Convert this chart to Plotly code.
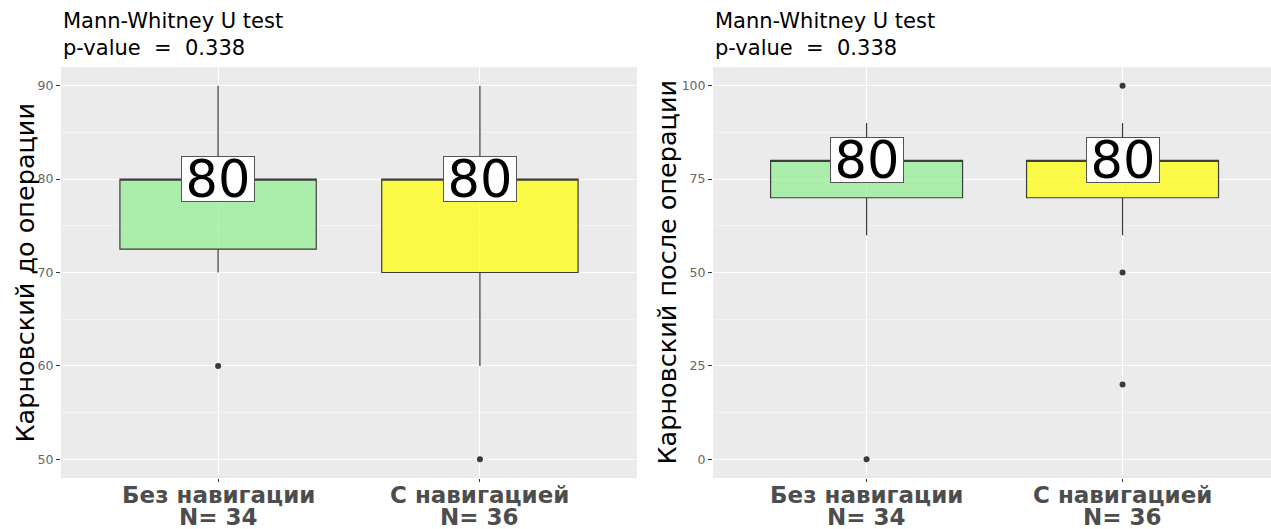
import plotly.graph_objects as go

# Groups and sample sizes
groups = ["Без навигации", "С навигацией"]
group_n = [34, 36]
fill_colors = ["rgba(144,238,144,0.7)", "rgba(255,255,0,0.7)"]

# Karnofsky score before surgery: box statistics per group
pre_q1 = [72.5, 70]
pre_median = [80, 80]
pre_q3 = [80, 80]
pre_low = [70, 60]
pre_high = [90, 90]
pre_outliers = [[60], [50]]

# Karnofsky score after surgery: box statistics per group
post_q1 = [70, 70]
post_median = [80, 80]
post_q3 = [80, 80]
post_low = [60, 60]
post_high = [90, 90]
post_outliers = [[0], [100, 50, 20]]

test_name = "Mann-Whitney U test"
p_values = [0.338, 0.338]
y_titles = ["Карновский до операции", "Карновский после операции"]

FONT = "DejaVu Sans"
W, H = 1271, 529

fig = go.Figure()

panels = [
    dict(q1=pre_q1, med=pre_median, q3=pre_q3, lo=pre_low, hi=pre_high,
         out=pre_outliers, xa="x", ya="y"),
    dict(q1=post_q1, med=post_median, q3=post_q3, lo=post_low, hi=post_high,
         out=post_outliers, xa="x2", ya="y2"),
]

for p in panels:
    for i, g in enumerate(groups):
        fig.add_trace(go.Box(
            x=[g], q1=[p["q1"][i]], median=[p["med"][i]], q3=[p["q3"][i]],
            lowerfence=[p["lo"][i]], upperfence=[p["hi"][i]],
            width=0.75, whiskerwidth=0, fillcolor=fill_colors[i],
            line=dict(color="#3d3d3d", width=1.2),
            boxpoints=False, hoverinfo="skip", showlegend=False,
            xaxis=p["xa"], yaxis=p["ya"],
        ))
        fig.add_trace(go.Scatter(
            x=[g] * len(p["out"][i]), y=p["out"][i], mode="markers",
            marker=dict(color="#3a3a3a", size=6), showlegend=False,
            hoverinfo="skip", xaxis=p["xa"], yaxis=p["ya"],
        ))
        # median label
        fig.add_annotation(
            x=g, y=p["med"][i], xref=p["xa"], yref=p["ya"],
            text=f"{p['med'][i]:g}", showarrow=False,
            font=dict(family=FONT, size=51, color="black"),
            bgcolor="white", bordercolor="#555555", borderwidth=1,
            width=72, height=44, borderpad=0,
        )

# panel placement (pixels)
left_dom = [61 / W, 637 / W]
right_dom = [713 / W, 1.0]
y_dom = [1 - 478 / H, 1 - 67 / H]

common_x = dict(
    type="category", showgrid=True, gridcolor="white", gridwidth=1.3,
    ticks="outside", ticklen=3, tickcolor="#333333", showticklabels=False,
    zeroline=False, showline=False,
)
common_y = dict(
    showgrid=True, gridcolor="white", gridwidth=1.3, zeroline=False,
    ticks="outside", ticklen=4, tickcolor="#333333", showline=False,
    tickfont=dict(family=FONT, size=12.5, color="#666666"),
)

fig.update_layout(
    width=W, height=H,
    margin=dict(l=0, r=0, t=0, b=0),
    paper_bgcolor="white", plot_bgcolor="#EBEBEB",
    boxmode="overlay",
    xaxis=dict(domain=left_dom, range=[-0.6, 1.6], anchor="y", **common_x),
    yaxis=dict(domain=y_dom, range=[48, 92], dtick=10, anchor="x",
               minor=dict(dtick=5, showgrid=True, gridcolor="#F3F3F3", gridwidth=0.8),
               **common_y),
    xaxis2=dict(domain=right_dom, range=[-0.6, 1.58], anchor="y2", **common_x),
    yaxis2=dict(domain=y_dom, range=[-5, 105], dtick=25, anchor="x2",
                minor=dict(dtick=12.5, showgrid=True, gridcolor="#F3F3F3", gridwidth=0.8),
                **common_y),
)

for k, (xa, dom) in enumerate([("x", left_dom), ("x2", right_dom)]):
    # plot titles
    fig.add_annotation(
        x=dom[0], y=1 - 21 / H, xref="paper", yref="paper",
        text=test_name, showarrow=False, xanchor="left", yanchor="middle",
        font=dict(family=FONT, size=21, color="black"),
    )
    fig.add_annotation(
        x=dom[0], y=1 - 48 / H, xref="paper", yref="paper",
        text=f"p-value  =  {p_values[k]:.3f}", showarrow=False,
        xanchor="left", yanchor="middle",
        font=dict(family=FONT, size=21, color="black"),
    )
    # y axis title
    fig.add_annotation(
        x=(25 if k == 0 else 667) / W, y=(y_dom[0] + y_dom[1]) / 2,
        xref="paper", yref="paper", text=y_titles[k], showarrow=False,
        textangle=-90, xanchor="center", yanchor="middle",
        font=dict(family=FONT, size=25.5, color="black"),
    )
    # category labels with sample sizes
    for g, n in zip(groups, group_n):
        fig.add_annotation(
            x=g, y=1 - 495 / H, xref=xa, yref="paper", text=f"<b>{g}</b>",
            showarrow=False, yanchor="middle",
            font=dict(family=FONT, size=23, color="#4D4D4D"),
        )
        fig.add_annotation(
            x=g, y=1 - 517 / H, xref=xa, yref="paper", text=f"<b>N= {n}</b>",
            showarrow=False, yanchor="middle",
            font=dict(family=FONT, size=23, color="#4D4D4D"),
        )

fig.write_html("out.html")
